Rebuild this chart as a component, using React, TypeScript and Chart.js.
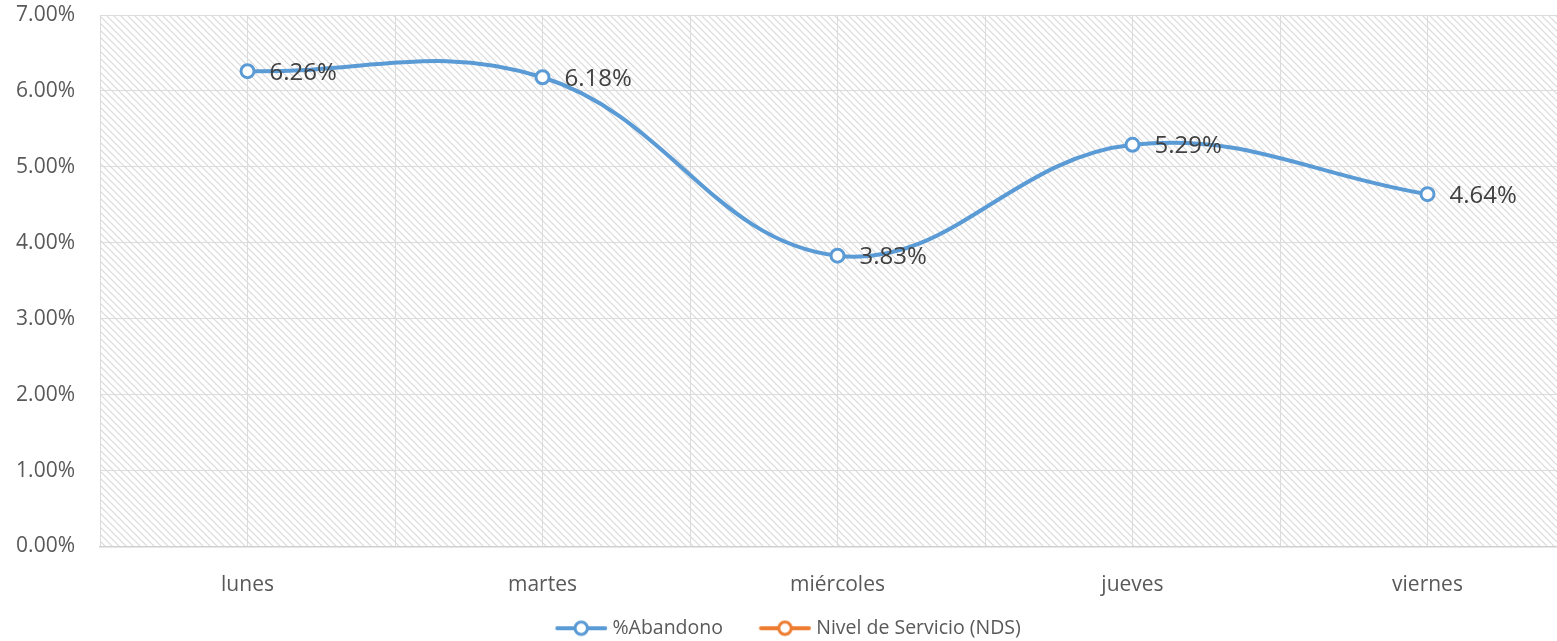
import { useEffect, useRef } from 'react';
import { Chart, registerables } from 'chart.js';

Chart.register(...registerables);

const days = ['lunes', 'martes', 'miércoles', 'jueves', 'viernes'];
const abandono = [0.0626, 0.0618, 0.0383, 0.0529, 0.0464];
// Nivel de Servicio values lie outside the visible 0–7% range; none are drawn.
const nds: (number | null)[] = [null, null, null, null, null];
const seriesNames = ['%Abandono', 'Nivel de Servicio (NDS)'];
const seriesColors = ['#5B9BD5', '#ED7D31'];
const yMax = 0.07;
const yStep = 0.01;

const FONT = "'Open Sans', 'DejaVu Sans', sans-serif";

// legend marker geometry
const BOX_W = 63.5;
const IMG_W = 100;
const MARK_OFF = IMG_W / 2 + BOX_W / 2 - 47.5;

function makeHatch(): CanvasPattern | string {
  const c = document.createElement('canvas');
  const s = 7;
  c.width = s;
  c.height = s;
  const g = c.getContext('2d');
  if (!g) return '#f0f0f0';
  g.fillStyle = '#ffffff';
  g.fillRect(0, 0, s, s);
  g.strokeStyle = '#dadada';
  g.lineWidth = 1.2;
  for (let k = -1; k <= 1; k++) {
    g.beginPath();
    g.moveTo(k * s - 1, -1);
    g.lineTo(k * s + s + 1, s + 1);
    g.stroke();
  }
  const p = g.createPattern(c, 'repeat');
  return p || '#f0f0f0';
}

function legendMarker(color: string): HTMLCanvasElement {
  const c = document.createElement('canvas');
  c.width = IMG_W;
  c.height = 20;
  const g = c.getContext('2d')!;
  const x0 = MARK_OFF;
  g.strokeStyle = color;
  g.lineWidth = 4;
  g.lineCap = 'round';
  g.beginPath();
  g.moveTo(x0 + 2, 10);
  g.lineTo(x0 + 50, 10);
  g.stroke();
  g.beginPath();
  g.arc(x0 + 26, 10, 6.2, 0, Math.PI * 2);
  g.fillStyle = '#ffffff';
  g.fill();
  g.lineWidth = 3;
  g.stroke();
  return c;
}

export default function App() {
  const ref = useRef<HTMLCanvasElement | null>(null);

  useEffect(() => {
    if (!ref.current) return;
    const hatch = makeHatch();
    const markers = seriesColors.map(legendMarker);

    const hatchPlugin = {
      id: 'hatchBg',
      beforeDraw(chart: any) {
        const { ctx, chartArea: a } = chart;
        ctx.save();
        ctx.fillStyle = hatch;
        ctx.fillRect(a.left, a.top, a.right - a.left, a.bottom - a.top);
        ctx.restore();
      },
    };

    const labelPlugin = {
      id: 'valueLabels',
      afterDatasetsDraw(chart: any) {
        const { ctx } = chart;
        const meta = chart.getDatasetMeta(0);
        ctx.save();
        ctx.font = `24px ${FONT}`;
        ctx.fillStyle = '#404040';
        ctx.textAlign = 'left';
        ctx.textBaseline = 'middle';
        meta.data.forEach((el: any, i: number) => {
          const v = abandono[i];
          ctx.fillText((v * 100).toFixed(2) + '%', el.x + 22, el.y + 1.5);
        });
        ctx.restore();
      },
    };

    const ds = (label: string, values: (number | null)[], color: string) => ({
      label,
      data: values.map((v, i) => ({ x: i, y: v as any })),
      borderColor: color,
      backgroundColor: '#ffffff',
      borderWidth: 4,
      tension: 0.4,
      pointRadius: 6.5,
      pointBorderWidth: 3,
      pointBackgroundColor: '#ffffff',
      pointBorderColor: color,
      fill: false,
    });

    const chart = new Chart(ref.current, {
      type: 'line',
      data: {
        datasets: [
          ds(seriesNames[0], abandono, seriesColors[0]),
          ds(seriesNames[1], nds, seriesColors[1]),
        ],
      },
      options: {
        animation: false,
        responsive: false,
        maintainAspectRatio: false,
        layout: { padding: { top: 15, right: 17, bottom: 0, left: -15 } },
        plugins: {
          tooltip: { enabled: false },
          legend: {
            position: 'bottom',
            align: 'center',
            labels: {
              usePointStyle: true,
              pointStyleWidth: BOX_W,
              padding: 20,
              color: '#595959',
              font: { family: FONT, size: 19.5 },
              generateLabels: (ch: any) => {
                const items = Chart.defaults.plugins.legend.labels.generateLabels(ch);
                return items.map((it: any, i: number) => ({ ...it, pointStyle: markers[i] }));
              },
            },
          },
        },
        scales: {
          x: {
            type: 'linear',
            min: -0.5,
            max: days.length - 0.5,
            afterFit: (s: any) => {
              s.height = 52;
              s.paddingLeft = 0;
              s.paddingRight = 0;
            },
            ticks: {
              stepSize: 0.5,
              autoSkip: false,
              maxRotation: 0,
              padding: 26,
              color: '#595959',
              font: { family: FONT, size: 21 },
              callback: (v: any) => (Number.isInteger(v) ? days[v] : ''),
            },
            grid: { color: '#dcdcdc', lineWidth: 1, drawTicks: false },
            border: { display: true, color: '#d0d0d0', width: 1.5 },
          },
          y: {
            min: 0,
            max: yMax,
            afterFit: (s: any) => {
              s.width = 115;
              s.paddingTop = 0;
              s.paddingBottom = 0;
            },
            ticks: {
              stepSize: yStep,
              padding: 25,
              color: '#595959',
              font: { family: FONT, size: 21 },
              callback: (v: any) => (Number(v) * 100).toFixed(2) + '%',
            },
            grid: { color: '#dcdcdc', lineWidth: 1, drawTicks: false },
            border: { display: false },
          },
        },
      },
      plugins: [hatchPlugin, labelPlugin],
    } as any);

    return () => chart.destroy();
  }, []);

  return (
    <div
      style={{
        position: 'absolute',
        left: 0,
        top: 0,
        width: 1557,
        height: 641,
        overflow: 'hidden',
        background: '#ffffff',
      }}
    >
      <canvas ref={ref} width={1592} height={648} style={{ display: 'block', width: 1592, height: 648 }} />
    </div>
  );
}
